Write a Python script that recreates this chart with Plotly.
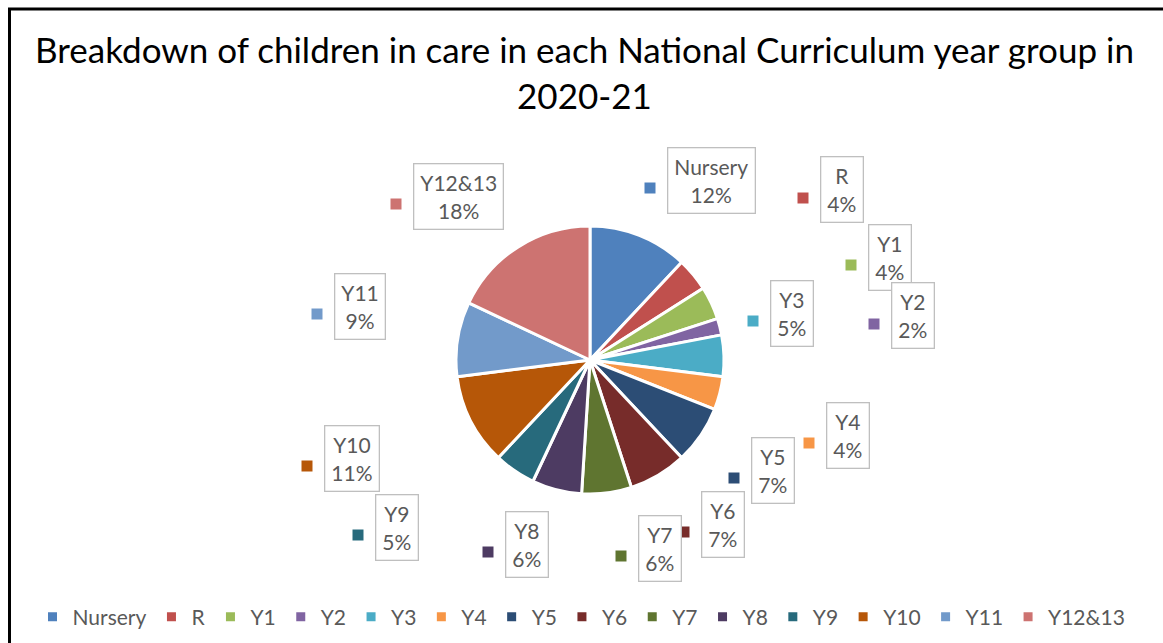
import plotly.graph_objects as go

# Year groups and their share of children in care (%)
categories = ["Nursery", "R", "Y1", "Y2", "Y3", "Y4", "Y5", "Y6",
              "Y7", "Y8", "Y9", "Y10", "Y11", "Y12&13"]
percentages = [12, 4, 4, 2, 5, 4, 7, 7, 6, 6, 5, 11, 9, 18]

colors = ["#4F81BD", "#C0504D", "#9BBB59", "#8064A2", "#4BACC6", "#F79646",
          "#2C4D75", "#772C2A", "#5F7530", "#4D3B62", "#276A7C", "#B65708",
          "#729ACA", "#CD7371"]

W, H = 1163, 643
FONT = "Lato"
GREY = "#595959"

# Data-label boxes: left edge and vertical centre, in page pixels
label_left = [667, 820, 868, 891, 770, 826, 751, 701, 638, 505, 375, 324, 334, 413]
label_mid = [180, 190, 257, 316, 313, 435, 470, 524, 548, 544, 527, 458, 306, 196]


def px(x):
    return x / W


def py(y):
    return 1 - y / H


fig = go.Figure()
fig.add_trace(go.Pie(
    labels=categories,
    values=percentages,
    sort=False,
    direction="clockwise",
    rotation=0,
    textinfo="none",
    hoverinfo="label+percent",
    marker=dict(colors=colors, line=dict(color="white", width=3)),
    domain=dict(x=[px(456), px(724)], y=[py(494), py(226)]),
    showlegend=True,
))

annotations = []
shapes = []
for cat, val, col, left, mid in zip(categories, percentages, colors, label_left, label_mid):
    # colour key square to the left of each label box
    sq = 5.5
    cx, cy = left - 17, mid + 8
    shapes.append(dict(
        type="rect", xref="paper", yref="paper",
        x0=px(cx - sq), x1=px(cx + sq), y0=py(cy + sq), y1=py(cy - sq),
        fillcolor=col, line=dict(width=0), layer="above",
    ))
    annotations.append(dict(
        text=f"{cat}<br>{val}%",
        xref="paper", yref="paper", x=px(left), y=py(mid),
        xanchor="left", yanchor="middle", showarrow=False, align="center",
        font=dict(family=FONT, size=21, color=GREY),
        bgcolor="white", bordercolor="#BFBFBF", borderwidth=1.3, borderpad=6,
    ))

# Chart title (two lines)
annotations.append(dict(
    text="Breakdown of children in care in each National Curriculum year group in<br>2020-21",
    xref="paper", yref="paper", x=px(584), y=py(72),
    xanchor="center", yanchor="middle", showarrow=False, align="center",
    font=dict(family=FONT, size=35, color="black"),
))

# Chart area border
shapes.append(dict(
    type="rect", xref="paper", yref="paper",
    x0=px(9.5), x1=px(W + 20), y0=py(H + 20), y1=py(9),
    line=dict(color="black", width=3), fillcolor="rgba(0,0,0,0)", layer="below",
))

fig.update_layout(
    width=W, height=H,
    margin=dict(l=0, r=0, t=0, b=0),
    paper_bgcolor="white",
    plot_bgcolor="white",
    legend=dict(
        orientation="h", x=0.5, xanchor="center", y=py(617), yanchor="middle",
        font=dict(family=FONT, size=21, color=GREY),
        itemwidth=30, tracegroupgap=0,
    ),
    shapes=shapes,
    annotations=annotations,
)

fig.write_html("out.html")
